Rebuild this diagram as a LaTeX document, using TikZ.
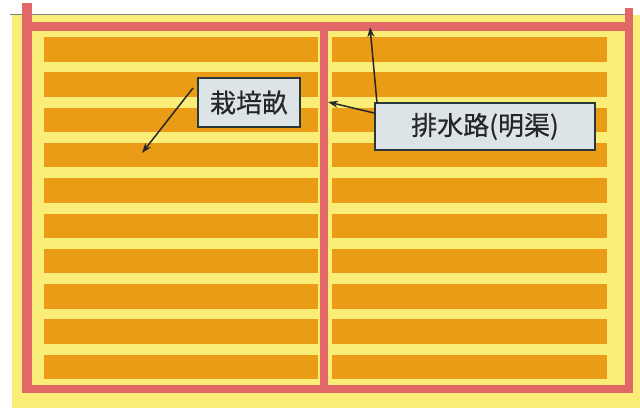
\documentclass[tikz,border=0pt]{standalone}
\usepackage{fontspec}
\newfontfamily\cjk[FakeBold=0.6]{Noto Sans CJK JP}
\usetikzlibrary{arrows.meta}
\definecolor{fieldyellow}{RGB}{250,238,120}
\definecolor{ridgeorange}{RGB}{234,156,22}
\definecolor{ditchred}{RGB}{226,104,104}
\definecolor{boxfill}{RGB}{221,228,232}
\definecolor{boxline}{RGB}{40,55,55}
\tikzset{
  ridge/.style={fill=ridgeorange, draw=none},
  ditch/.style={fill=ditchred, draw=none},
  labelbox/.style={draw=boxline, line width=1.4pt, fill=boxfill, font=\cjk\fontsize{26}{28}\selectfont, text=black!85, inner sep=0pt, anchor=center},
  pointer/.style={draw=black!85, line width=1.5pt, -{Stealth[length=10pt,width=7pt]}}
}
\begin{document}
\begin{tikzpicture}[x=1pt,y=-1pt]
\useasboundingbox (0,0) rectangle (640,408);
\fill[white] (0,0) rectangle (640,408);
% field ground
\fill[fieldyellow] (12,15) rectangle (640,408);
\draw[gray, line width=0.8pt] (10,14.5) -- (626,14.5);
% ridges
\foreach \i in {0,...,9}{
  \fill[ridge] (44,{37+35.3*\i}) rectangle (318,{61.5+35.3*\i});
  \fill[ridge] (332,{37+35.3*\i}) rectangle (607,{61.5+35.3*\i});
}
% drainage ditches
\fill[ditch] (22,22) rectangle (633,31);
\fill[ditch] (22,385) rectangle (633,393);
\fill[ditch] (22,3) rectangle (32,393);
\fill[ditch] (625,8) rectangle (633,393);
\fill[ditch] (320,27) rectangle (328,393);
% labels
\node[labelbox, minimum width=102pt, minimum height=49pt] (lab1) at (249,102.5) {栽培畝};
\node[labelbox, minimum width=220pt, minimum height=47pt] (lab2) at (485,126.5) {排水路(明渠)};
% arrow ends
\coordinate (a1s) at (193,88);
\coordinate (a1e) at (142,153);
\coordinate (a2s) at (377,103);
\coordinate (a2e) at (370,27);
\coordinate (a3s) at (374,113);
\coordinate (a3e) at (328,102);
\draw[pointer] (a1s) -- (a1e);
\draw[pointer] (a2s) -- (a2e);
\draw[pointer] (a3s) -- (a3e);
\end{tikzpicture}
\end{document}
